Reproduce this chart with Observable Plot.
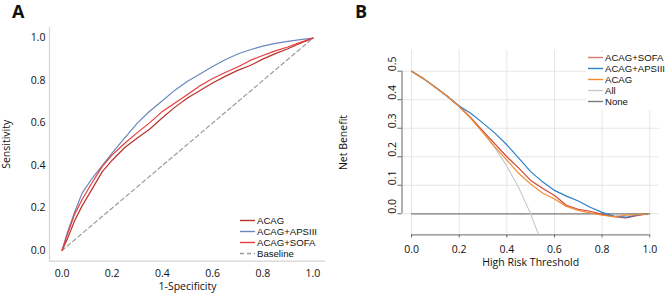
<!DOCTYPE html>
<html><head><meta charset="utf-8">
<script src="https://cdn.jsdelivr.net/npm/d3@7"></script>
<script src="https://cdn.jsdelivr.net/npm/@observablehq/plot@0.6"></script>
<style>
html,body{margin:0;padding:0;background:#fff;}
#wrap{position:relative;width:669px;height:295px;overflow:hidden;font-family:"Open Sans",sans-serif;}
.panel{position:absolute;top:0;}
.tag{position:absolute;font:bold 18px/18px "Open Sans",sans-serif;color:#111;}
.legend{position:absolute;font:9.6px "Liberation Sans",Arial,sans-serif;color:#111;background:#fff;}
.legend div{height:11px;line-height:11px;white-space:nowrap;display:flex;align-items:center;}
.legend span{display:inline-block;height:11px;line-height:11px;overflow:visible;}
.legend svg{margin-right:2px;flex:none;}
</style></head><body>
<div id="wrap">
  <div class="tag" style="left:12px;top:2px">A</div>
  <div class="tag" style="left:355px;top:2px">B</div>
  <div id="panelA" class="panel" style="left:0px"></div>
  <div id="panelB" class="panel" style="left:330px"></div>
  <div id="legendA" class="legend" style="left:240px;top:215px;background:transparent"></div>
  <div id="legendB" class="legend" style="left:586px;top:52px;padding:0 0 3px 2px"></div>
</div>
<script>
// ---------- Panel A: ROC curves ----------
const rocNames = ["ACAG", "ACAG+APSIII", "ACAG+SOFA"];
const fpr       = [0, 0.02, 0.05, 0.08, 0.12, 0.16, 0.2, 0.25, 0.3, 0.35, 0.4, 0.45, 0.5, 0.55, 0.6, 0.65, 0.7, 0.75, 0.8, 0.85, 0.9, 0.95, 1];
const tprACAG   = [0, 0.05, 0.14, 0.21, 0.29, 0.37, 0.425, 0.485, 0.53, 0.572, 0.625, 0.675, 0.718, 0.753, 0.789, 0.82, 0.848, 0.871, 0.901, 0.927, 0.95, 0.976, 1];
const tprAPSIII = [0, 0.08, 0.18, 0.27, 0.34, 0.40, 0.46, 0.53, 0.60, 0.657, 0.705, 0.755, 0.797, 0.831, 0.866, 0.898, 0.925, 0.945, 0.962, 0.975, 0.985, 0.993, 1];
const tprSOFA   = [0, 0.07, 0.17, 0.24, 0.32, 0.395, 0.45, 0.505, 0.555, 0.602, 0.655, 0.695, 0.735, 0.776, 0.81, 0.838, 0.864, 0.895, 0.918, 0.94, 0.958, 0.98, 1];
const baselineX = [0, 1];
const baselineY = [0, 1];
const rocTicks  = [0, 0.2, 0.4, 0.6, 0.8, 1.0];

// ---------- Panel B: decision curves ----------
const dcaNames   = ["ACAG+SOFA", "ACAG+APSIII", "ACAG", "All", "None"];
const thresholds = [0, 0.05, 0.1, 0.15, 0.2, 0.25, 0.3, 0.35, 0.4, 0.45, 0.5, 0.55, 0.6, 0.65, 0.7, 0.75, 0.8, 0.85, 0.9, 0.95, 0.99];
const nbSOFA     = [0.5, 0.474, 0.444, 0.412, 0.377, 0.336, 0.29, 0.245, 0.2, 0.16, 0.117, 0.09, 0.064, 0.03, 0.016, 0.009, -0.002, -0.01, -0.014, -0.006, 0.0];
const nbAPSIII   = [0.5, 0.474, 0.444, 0.412, 0.378, 0.352, 0.318, 0.283, 0.242, 0.195, 0.148, 0.112, 0.082, 0.062, 0.045, 0.023, 0.005, -0.008, -0.012, -0.004, 0.0];
const nbACAG     = [0.5, 0.474, 0.444, 0.412, 0.376, 0.334, 0.285, 0.235, 0.188, 0.142, 0.104, 0.073, 0.052, 0.026, 0.012, 0.003, -0.005, -0.01, -0.005, -0.003, 0.0];
const allThresh  = [0, 0.05, 0.1, 0.15, 0.2, 0.25, 0.3, 0.35, 0.4, 0.45, 0.5, 0.55];
const nbAll      = [0.5, 0.474, 0.444, 0.412, 0.375, 0.333, 0.286, 0.231, 0.167, 0.091, 0.0, -0.111];
const noneThresh = [0, 1];
const nbNone     = [0, 0];
const dcaXTicks  = [0, 0.2, 0.4, 0.6, 0.8, 1.0];
const dcaYTicks  = [0, 0.1, 0.2, 0.3, 0.4, 0.5];

const FONT = '"Open Sans", sans-serif';

// ---- Build Panel A ----
const rocColors = ["#b8322c", "#6b87bc", "#ea3b3d"];
const rocRows = [];
[tprACAG, tprAPSIII, tprSOFA].forEach((t, k) =>
  fpr.forEach((f, i) => rocRows.push({model: rocNames[k], fpr: f, tpr: t[i]})));
const baseRows = baselineX.map((x, i) => ({x, y: baselineY[i]}));
const domA = [-0.05, 1.05];

const plotA = Plot.plot({
  width: 335, height: 295,
  marginLeft: 49, marginRight: 10, marginTop: 27, marginBottom: 34.4,
  style: {fontFamily: FONT, fontSize: "10.5px", color: "#111", background: "transparent"},
  x: {domain: domA},
  y: {domain: domA},
  color: {domain: rocNames, range: rocColors},
  marks: [
    Plot.ruleX([domA[0]], {stroke: "#d4d4d4", strokeWidth: 1.2}),
    Plot.ruleY([domA[0]], {stroke: "#d4d4d4", strokeWidth: 1.2}),
    Plot.axisX({ticks: rocTicks, tickSize: 0, tickPadding: 8, tickFormat: ".1f",
      label: "1-Specificity", labelAnchor: "center", labelArrow: "none", labelOffset: 29}),
    Plot.axisY({ticks: rocTicks, tickSize: 0, tickPadding: 4, tickFormat: ".1f",
      label: "Sensitivity", labelAnchor: "center", labelArrow: "none", labelOffset: 47}),
    Plot.line(baseRows, {x: "x", y: "y", stroke: "#9b9b9b", strokeWidth: 1.2, strokeDasharray: "4,3"}),
    Plot.line(rocRows, {x: "fpr", y: "tpr", z: "model", stroke: "model", strokeWidth: 1.2})
  ]
});
document.getElementById("panelA").appendChild(plotA);

// ---- Build Panel B ----
const dcaColors = ["#d3463c", "#2b7fca", "#f28a2e", "#c9c9c9", "#7d7d7d"];
const dcaLegendColors = ["#d27b73", "#2b7fca", "#f28a2e", "#c9c9c9", "#7d7d7d"];
const dcaRows = [];
[nbSOFA, nbAPSIII, nbACAG].forEach((nb, k) =>
  thresholds.forEach((t, i) => dcaRows.push({model: dcaNames[k], t, nb: nb[i]})));
const allRows = allThresh.map((t, i) => ({t, nb: nbAll[i]}));
const noneRows = noneThresh.map((t, i) => ({t, nb: nbNone[i]}));
const xDomB = [-0.04, 1.04];
const yDomB = [-0.074, 0.574];

const plotB = Plot.plot({
  width: 339, height: 295,
  marginLeft: 71.5, marginRight: 10.2, marginTop: 49.6, marginBottom: 60.6,
  style: {fontFamily: FONT, fontSize: "10.5px", color: "#111", background: "transparent"},
  x: {domain: xDomB},
  y: {domain: yDomB},
  color: {domain: dcaNames, range: dcaColors},
  marks: [
    Plot.gridX(dcaXTicks, {stroke: "#e6e6e6", strokeOpacity: 1}),
    Plot.gridY(dcaYTicks, {stroke: "#e6e6e6", strokeOpacity: 1}),
    Plot.ruleX([xDomB[0]], {y1: dcaYTicks[0], y2: dcaYTicks[dcaYTicks.length - 1], stroke: "#666"}),
    Plot.ruleY([yDomB[0]], {x1: dcaXTicks[0], x2: dcaXTicks[dcaXTicks.length - 1], stroke: "#666"}),
    Plot.axisX({ticks: dcaXTicks, tickSize: 3, tickPadding: 8, tickFormat: ".1f", stroke: "#666",
      label: "High Risk Threshold", labelAnchor: "center", labelArrow: "none", labelOffset: 31}),
    Plot.axisY({ticks: dcaYTicks, tickSize: 4, tickFormat: () => "", stroke: "#666",
      label: "Net Benefit", labelAnchor: "center", labelArrow: "none", labelOffset: 62}),
    Plot.text(dcaYTicks, {y: d => d, text: d => d.toFixed(1), frameAnchor: "left",
      rotate: -90, dx: -9.8, fontSize: 10.5}),
    Plot.line(noneRows, {x: "t", y: "nb", stroke: "#7d7d7d", strokeWidth: 1.3}),
    Plot.line(allRows, {x: "t", y: "nb", stroke: "#c9c9c9", strokeWidth: 1.1, clip: true}),
    Plot.line(dcaRows, {x: "t", y: "nb", z: "model", stroke: "model", strokeWidth: 1.2})
  ]
});
document.getElementById("panelB").appendChild(plotB);

// ---- Legends ----
function buildLegend(id, names, colors, dashes) {
  const el = document.getElementById(id);
  names.forEach((n, i) => {
    const row = document.createElement("div");
    const dash = dashes && dashes[i] ? ` stroke-dasharray="${dashes[i]}"` : "";
    row.innerHTML = `<svg width="15" height="11"><line x1="0" x2="15" y1="5.5" y2="5.5" stroke="${colors[i]}" stroke-width="1.4"${dash}/></svg><span>${n}</span>`;
    el.appendChild(row);
  });
}
buildLegend("legendA", [...rocNames, "Baseline"], [...rocColors, "#9b9b9b"], [null, null, null, "4,3"]);
buildLegend("legendB", dcaNames, dcaLegendColors, null);
</script>
</body></html>
